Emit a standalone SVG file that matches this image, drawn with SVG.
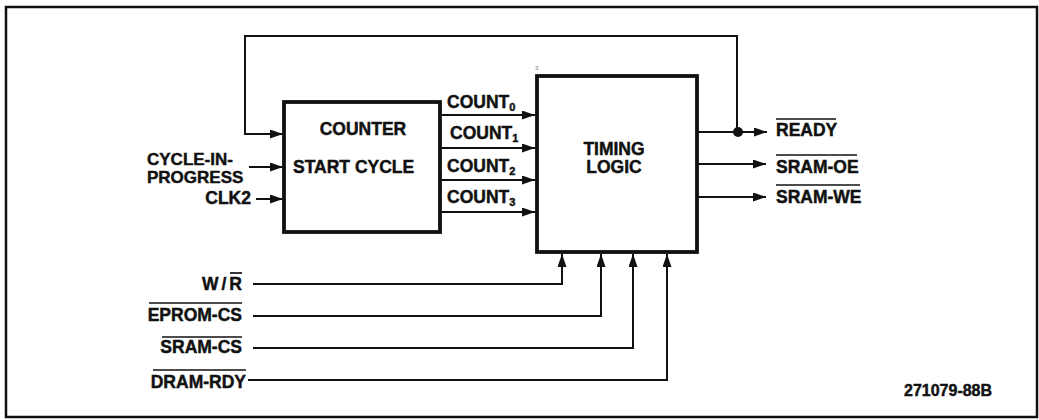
<svg xmlns="http://www.w3.org/2000/svg" width="1039" height="420" viewBox="0 0 1039 420">
<style>
text{font-family:"Liberation Sans",Arial,sans-serif;font-weight:bold;font-size:17.5px;fill:#111;stroke:#111;stroke-width:0.45}
.box{fill:#fff;stroke:#111;stroke-width:3.8}
.w{fill:none;stroke:#111;stroke-width:2}
.ov{stroke:#111;stroke-width:1.7}
.sub{font-size:11px}
.two{font-size:17px}
</style>
<defs>
<marker id="ah" markerUnits="userSpaceOnUse" markerWidth="14" markerHeight="10" refX="13" refY="4.5" orient="auto">
<path d="M0,0 L13,4.5 L0,9 z" fill="#111"/>
</marker>
</defs>
<rect x="6" y="7" width="1031" height="410" fill="#fff" stroke="#111" stroke-width="2.5"/>
<g id="connectors">
<path class="w" d="M737,132 V36 H245 V134 H283" marker-end="url(#ah)"/>
<path class="w" d="M249,167 H283" marker-end="url(#ah)"/>
<path class="w" d="M256,199 H283" marker-end="url(#ah)"/>
<path class="w" d="M441,115 H535" marker-end="url(#ah)"/>
<path class="w" d="M441,148 H535" marker-end="url(#ah)"/>
<path class="w" d="M441,180 H535" marker-end="url(#ah)"/>
<path class="w" d="M441,212 H535" marker-end="url(#ah)"/>
<path class="w" d="M698,132 H767" marker-end="url(#ah)"/>
<path class="w" d="M698,164 H766" marker-end="url(#ah)"/>
<path class="w" d="M698,197 H766" marker-end="url(#ah)"/>
<circle cx="738" cy="132" r="5" fill="#111"/>
<path class="w" d="M253,284 H562 V254" marker-end="url(#ah)"/>
<path class="w" d="M253,316 H601 V254" marker-end="url(#ah)"/>
<path class="w" d="M253,348 H633 V254" marker-end="url(#ah)"/>
<path class="w" d="M248,380 H667 V254" marker-end="url(#ah)"/>
</g>
<g id="counter">
<rect class="box" x="284" y="102" width="156" height="130"/>
<text x="363" y="135" text-anchor="middle">COUNTER</text>
<text x="293" y="173">START CYCLE</text>
</g>
<g id="timing">
<rect class="box" x="537" y="76" width="160" height="176"/>
<text x="614" y="155" text-anchor="middle">TIMING</text>
<text x="614" y="173" text-anchor="middle">LOGIC</text>
<text x="535" y="70" style="font-size:6px;font-weight:normal;fill:#777;stroke:none">3</text>
</g>
<g id="counter-outputs">
<text x="447" y="108">COUNT<tspan class="sub" dy="3">0</tspan></text>
<text x="450" y="139">COUNT<tspan class="sub" dy="3">1</tspan></text>
<text x="447" y="172">COUNT<tspan class="sub" dy="3">2</tspan></text>
<text x="447" y="203">COUNT<tspan class="sub" dy="3">3</tspan></text>
</g>
<g id="counter-inputs">
<text class="two" x="147" y="165">CYCLE-IN-<tspan x="147" y="183">PROGRESS</tspan></text>
<text x="251" y="204" text-anchor="end">CLK2</text>
</g>
<g id="outputs">
<text x="776" y="136">READY</text>
<line class="ov" x1="776" y1="119" x2="836" y2="119"/>
<text x="776" y="173">SRAM-OE</text>
<line class="ov" x1="776" y1="155" x2="857" y2="155"/>
<text x="776" y="203">SRAM-WE</text>
<line class="ov" x1="776" y1="185" x2="860" y2="185"/>
</g>
<g id="timing-inputs">
<text x="242" y="290" text-anchor="end">W<tspan dx="3">/</tspan><tspan dx="3">R</tspan></text>
<line class="ov" x1="230" y1="273" x2="242" y2="273"/>
<text x="242" y="321" text-anchor="end">EPROM-CS</text>
<line class="ov" x1="149" y1="303" x2="242" y2="303"/>
<text x="242" y="353" text-anchor="end">SRAM-CS</text>
<line class="ov" x1="162" y1="337" x2="242" y2="337"/>
<text x="246" y="388" text-anchor="end">DRAM-RDY</text>
<line class="ov" x1="153" y1="370" x2="246" y2="370"/>
</g>
<text x="904" y="396" style="font-size:16px">271079-88B</text>
</svg>
